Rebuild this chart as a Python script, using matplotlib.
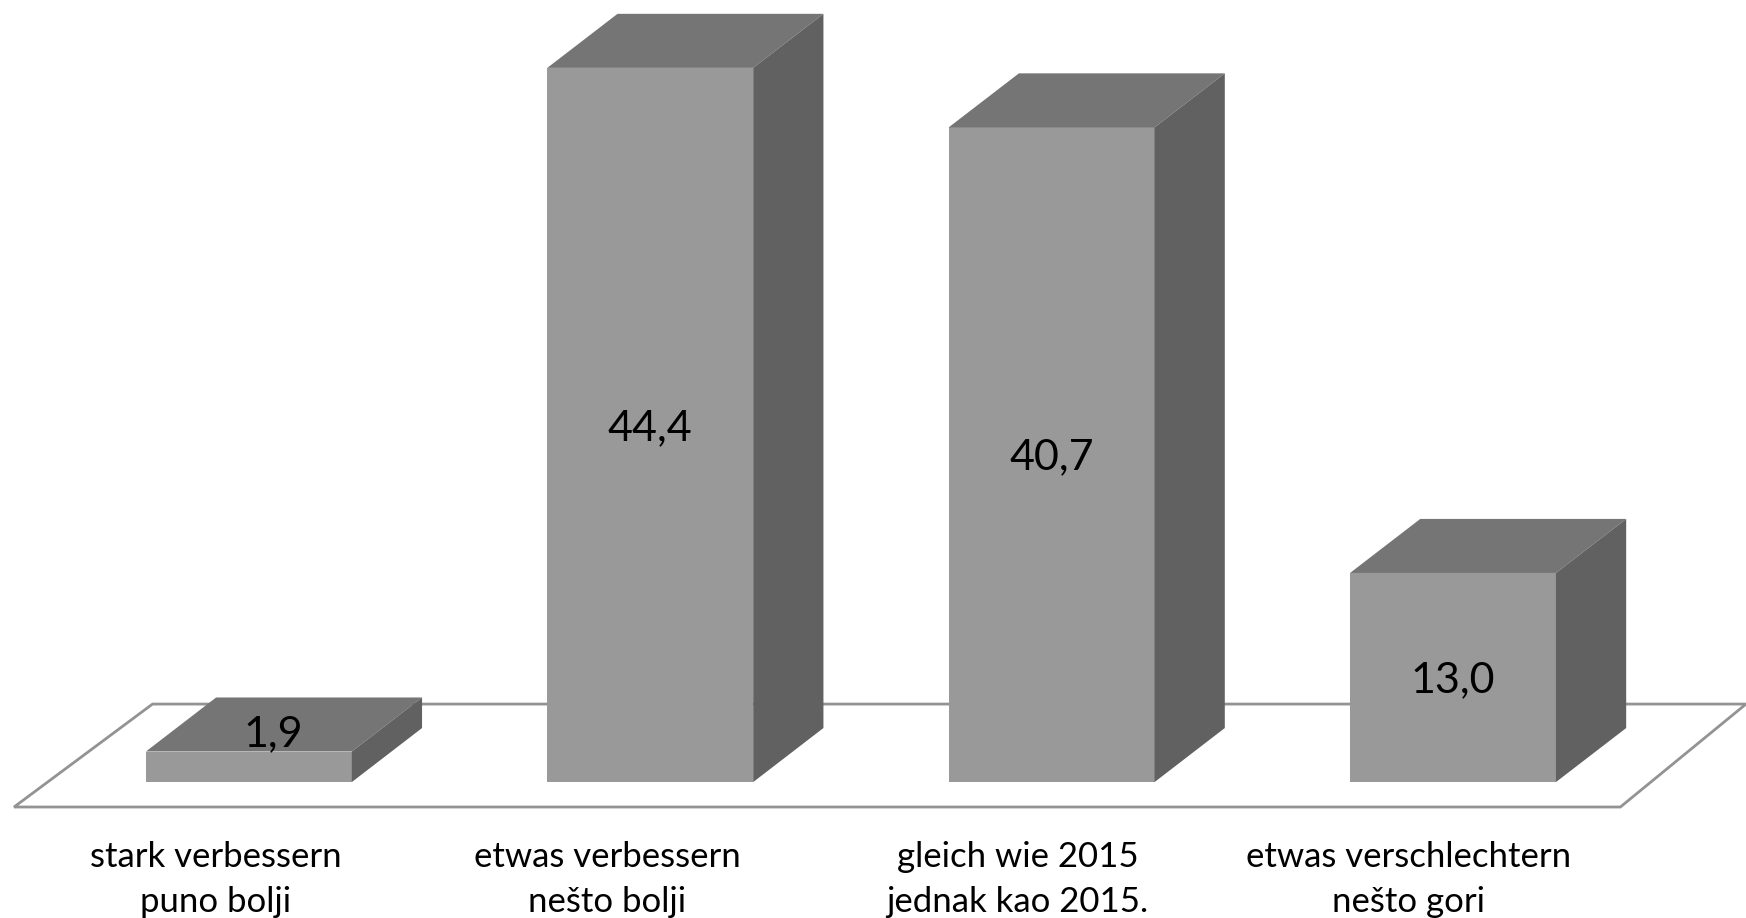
import matplotlib
matplotlib.use('Agg')
import matplotlib.pyplot as plt
from matplotlib.patches import Polygon

plt.rcParams['font.family'] = ['Lato', 'DejaVu Sans']

labels = ['stark verbessern\npuno bolji', 'etwas verbessern\nnešto bolji',
          'gleich wie 2015\njednak kao 2015.', 'etwas verschlechtern\nnešto gori']
values = [1.9, 44.4, 40.7, 13.0]
value_labels = ['1,9', '44,4', '40,7', '13,0']

FRONT = '#999999'
TOP = '#757575'
SIDE = '#616161'
FLOOR = '#939393'

fig = plt.figure(figsize=(17.46, 9.18), dpi=100)
ax = fig.add_axes([0, 0, 1, 1])
ax.set_xlim(-0.62, 3.73)
ax.set_ylim(-8.45, 48.62)
ax.axis('off')

# 3d offset of the boxes, in data units
dx = 0.175
dy = 3.36
w = 0.513

# category labels don't sit quite under the bars
label_shift = [-0.082, -0.107, -0.085, -0.11]

# floor
ax.add_patch(Polygon([(-0.585, -1.55), (3.417, -1.55), (3.73, 4.85), (-0.24, 4.85)],
                     closed=True, fc='white', ec=FLOOR, lw=2, zorder=1))

for i, v in enumerate(values):
    l = i - w / 2
    r = i + w / 2
    ax.add_patch(Polygon([(l, 0), (r, 0), (r, v), (l, v)], fc=FRONT, ec='none', zorder=2))
    ax.add_patch(Polygon([(l, v), (r, v), (r + dx, v + dy), (l + dx, v + dy)], fc=TOP, ec='none', zorder=2))
    ax.add_patch(Polygon([(r, 0), (r + dx, dy), (r + dx, v + dy), (r, v)], fc=SIDE, ec='none', zorder=2))
    # the smallest bar has its label pushed up onto the top face
    tx, ty = (i + 0.06, v / 2 + 2.0) if v < 5 else (i, v / 2 - 0.18)
    ax.text(tx, ty, value_labels[i], ha='center', va='center',
            fontsize=31, color='black', zorder=3)
    ax.text(i + label_shift[i], -6.05, labels[i], ha='center', va='center', fontsize=25,
            color='black', linespacing=1.48, zorder=3)

fig.savefig('out.png', dpi=100)
